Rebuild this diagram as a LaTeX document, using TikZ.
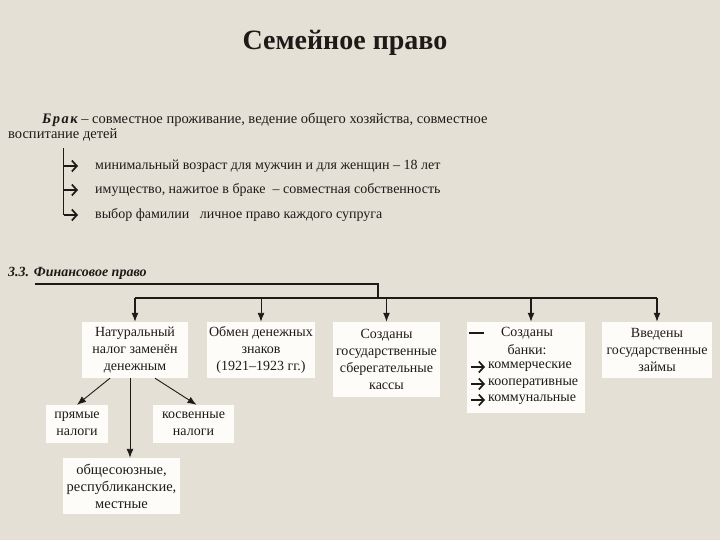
\documentclass[tikz,border=0pt]{standalone}
\usepackage{fontspec}
\setmainfont{Liberation Serif}
\usetikzlibrary{arrows.meta,calc}
\definecolor{bg}{RGB}{229,224,213}
\definecolor{ink}{RGB}{30,26,24}
\definecolor{boxw}{RGB}{253,252,249}
\begin{document}
\begin{tikzpicture}[x=1pt,y=-1pt,
  every node/.style={text=ink, inner sep=0pt, font=\fontsize{14}{17}\selectfont},
  body/.style={font=\fontsize{14.5}{17}\selectfont},
  box/.style={fill=boxw, align=center},
  arr/.style={draw=ink, line width=1.2pt, -{Latex[length=9pt,width=7pt]}},
  ln/.style={draw=ink, line width=1.4pt},
  garr/.style={draw=ink, line width=1.7pt, -{Straight Barb[length=5pt,width=11pt]}}]
\fill[bg] (0,0) rectangle (720,540);
\useasboundingbox (0,0) rectangle (720,540);

% title
\node[font=\fontsize{28}{32}\selectfont\bfseries] (title) at (345,43) {Семейное право};

% marriage text
\node[body, anchor=base west] (brak) at (42,124) {{\bfseries\itshape Б\kern1.5pt р\kern1.5pt а\kern1.5pt к} – совместное проживание, ведение общего хозяйства, совместное};
\node[body, anchor=base west] (brak2) at (8,139) {воспитание детей};

\node[anchor=west] (l1) at (95,166) {минимальный возраст для мужчин и для женщин – 18 лет};
\node[anchor=west] (l2) at (95,190) {имущество, нажитое в браке \ – совместная собственность};
\node[anchor=west] (l3) at (95,215) {выбор фамилии \ \ личное право каждого супруга};
\coordinate (vtop) at (63,148);
\draw[draw=ink, line width=1pt] (vtop) -- (vtop |- l3.west);
\foreach \n in {l1,l2,l3}{
  \draw[garr] ([xshift=-31pt]\n.west) -- ([xshift=-17pt]\n.west);
}

% finance heading
\node[anchor=base west, font=\fontsize{14}{16}\selectfont\bfseries\itshape] (fin) at (8,276) {3.3. Финансовое право};

% boxes
\node[box, minimum width=106pt, minimum height=56pt] (b1) at (135,350) {Натуральный\\налог заменён\\денежным};
\node[box, minimum width=108pt, minimum height=56pt] (b2) at (261,350) {Обмен денежных\\знаков\\(1921–1923 гг.)};
\node[box, minimum width=107pt, minimum height=75pt] (b3) at (386.5,359.5) {Созданы\\государственные\\сберегательные\\кассы};
\node[box, minimum width=118pt, minimum height=91pt] (b4) at (526,367.5) {};
\node[box, minimum width=110pt, minimum height=56pt] (b5) at (657,350) {Введены\\государственные\\займы};

\node (b4a) at (527,333) {Созданы};
\node (b4b) at (527,350) {банки:};
\node[anchor=west] (b4c) at (488,367) {коммерческие};
\node[anchor=west] (b4d) at (488,384) {кооперативные};
\node[anchor=west] (b4e) at (488,400) {коммунальные};
\draw[draw=ink, line width=1.2pt] ([xshift=2pt]b4.west |- b4a) -- ([xshift=17pt]b4.west |- b4a);
\foreach \n in {b4c,b4d,b4e}{
  \draw[garr] ([xshift=-17pt]\n.west) -- ([xshift=-3pt]\n.west);
}

\node[box, minimum width=62pt, minimum height=38pt] (pr) at (77,424) {прямые\\налоги};
\node[box, minimum width=81pt, minimum height=38pt] (kos) at (193.5,424) {косвенные\\налоги};
\node[box, minimum width=117pt, minimum height=56pt, font=\fontsize{14.5}{17}\selectfont] (obs) at (121.5,486) {общесоюзные,\\республиканские,\\местные};

% connectors
\coordinate (hs) at (35,284);
\coordinate (hj) at (378,284);
\coordinate (bus) at (378,298);
\draw[ln] (hs) -- (hj) -- (bus);
\draw[ln] (b1.north |- bus) -- (b5.north |- bus);
\draw[arr] (b1.north |- bus) -- (b1.north);
\draw[arr, line width=0.9pt] (b2.north |- bus) -- (b2.north);
\draw[arr] (b3.north |- bus) -- (b3.north);
\draw[arr] ([xshift=5pt]b4.north |- bus) -- ([xshift=5pt]b4.north);
\draw[arr] (b5.north |- bus) -- (b5.north);

\draw[arr, line width=0.9pt] ([xshift=-25pt]b1.south) -- (pr.north);
\draw[arr, line width=0.9pt] ([xshift=20pt]b1.south) -- ([xshift=3pt]kos.north);
\draw[arr, line width=0.9pt] ([xshift=-5pt]b1.south) -- ([xshift=-5pt]b1.south |- obs.north);
\end{tikzpicture}
\end{document}
